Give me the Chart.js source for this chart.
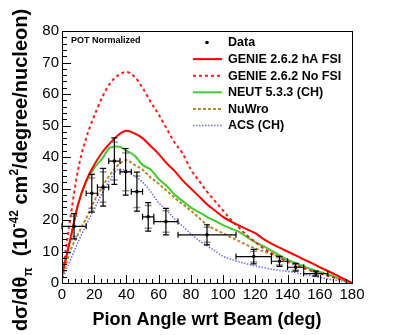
<!DOCTYPE html>
<html><head><meta charset="utf-8">
<script src="https://cdn.jsdelivr.net/npm/chart.js@4/dist/chart.umd.min.js"></script>
<style>html,body{margin:0;padding:0;background:#fff;}canvas{display:block;}</style>
</head><body>
<canvas id="c" width="415" height="335"></canvas>
<script>
// ---- data ----
const angles = [0,5,10,15,20,25,30,35,40,45,50,55,60,65,70,75,80,85,90,95,100,105,110,115,120,125,130,135,140,145,150,155,160,165,170,175,180];
const genieHA =   [2.5,13.5,25,32.5,37.5,41.5,44.5,47,48.3,47.5,46,43.5,41,38,35.5,32.5,30,27.5,25,23,21,19.5,18.2,17,15.8,14,12.5,11.2,10,8.8,7.5,6.3,5,3.8,2.6,1.3,0];
const genieNoFSI =[2,20,36,46,53,59,63.5,66,67,65.5,62,57.5,53.5,49,44.5,41,36,32.5,29,26,23,20,17.5,15,13,11,9.5,8,6.8,5.7,4.7,3.8,3,2.3,1.5,0.8,0];
const neut =      [2.5,13.5,25,32,36.5,39.5,43,43.3,42,40.5,37.5,36,33,30.8,28,26,24,22.5,21,19.7,18.4,17.3,16.2,14.5,13,11.7,10.3,8.8,7.3,6.3,5.3,4.3,3.5,2.8,1.8,0.9,0];
const nuwro =     [1.5,10,15.5,20.5,26,30.5,34.5,37.5,39,37.5,36,33.5,31.5,29.3,27,25,23,20.7,18.5,17,15.8,14.5,13.3,12,11,10,9.2,8.3,7.3,6.3,5.3,4.3,3.5,2.7,1.8,0.9,0];
const acs =       [1,7,13,18.5,23.5,28.5,33,36,35.8,34,32,29,25.5,23,20.3,18,15.6,13.5,11.8,10.2,8.5,7.5,6.7,6,5.4,4.9,4.4,4,3.7,3.3,2.8,2.3,1.8,1.3,0.9,0.5,0];

const dataX     = [7.5,18.5,25.5,32.5,39.5,46.5,53.5,64.5,90,119,135,145,157.5];
const dataXLow  = [0,15,22,29,36,43,50,57,72,108,130,140,150];
const dataXHigh = [15,22,29,36,43,50,57,72,108,130,140,150,165];
const dataY     = [18,28.5,30.4,38.7,35.3,29,21,19.5,15.3,8.4,6.9,5.0,3.0];
const dataErr   = [4,6,6,7.4,7.4,6.2,4.5,4.2,3.2,2.3,1.6,1.2,0.8];
const dataStat  = [3.2,4.8,4.8,6,6,5,3.6,3.4,2.4,1.7,1.2,0.9,0.6];

const seriesLabels = ['Data','GENIE 2.6.2 hA FSI','GENIE 2.6.2 No FSI','NEUT 5.3.3 (CH)','NuWro','ACS (CH)'];
const xTickLabels = [0,20,40,60,80,100,120,140,160,180];
const yTickLabels = [0,10,20,30,40,50,60,70,80];
const xMinorStep = 4, yMinorStep = 2;

const FONT = '"Liberation Sans", Arial, Helvetica, sans-serif';
const toXY = arr => angles.map((a,i)=>({x:a,y:arr[i]}));

const framePlugin = {
  id:'frame',
  afterDatasetsDraw(chart){
    const {ctx, chartArea:a, scales:{x,y}} = chart;
    ctx.save();
    // error bars
    for(let i=0;i<dataX.length;i++){
      const px = x.getPixelForValue(dataX[i]);
      const py = y.getPixelForValue(dataY[i]);
      const xl = x.getPixelForValue(dataXLow[i]);
      const xh = x.getPixelForValue(dataXHigh[i]);
      const yt = y.getPixelForValue(dataY[i]+dataErr[i]);
      const yb = y.getPixelForValue(dataY[i]-dataErr[i]);
      const st = y.getPixelForValue(dataY[i]+dataStat[i]);
      const sb = y.getPixelForValue(dataY[i]-dataStat[i]);
      ctx.strokeStyle='rgba(120,120,120,0.8)'; ctx.lineWidth=1.5;
      ctx.beginPath();
      ctx.moveTo(px-3.5,st);ctx.lineTo(px+3.5,st);
      ctx.moveTo(px-3.5,sb);ctx.lineTo(px+3.5,sb);
      ctx.stroke();
      ctx.strokeStyle='#000'; ctx.lineWidth=1.2;
      ctx.beginPath();
      ctx.moveTo(xl,py);ctx.lineTo(xh,py);
      ctx.moveTo(xl,py-3);ctx.lineTo(xl,py+3);
      ctx.moveTo(xh,py-3);ctx.lineTo(xh,py+3);
      ctx.moveTo(px,yt);ctx.lineTo(px,yb);
      ctx.moveTo(px-3,yt);ctx.lineTo(px+3,yt);
      ctx.moveTo(px-3,yb);ctx.lineTo(px+3,yb);
      ctx.stroke();
    }
    ctx.restore();
  },
  afterDraw(chart){
    const {ctx, chartArea:a, scales:{x,y}} = chart;
    ctx.save();
    ctx.strokeStyle='#000'; ctx.lineWidth=1;
    ctx.strokeRect(Math.round(a.left)+0.5, Math.round(a.top)+0.5, Math.round(a.right-a.left), Math.round(a.bottom-a.top));
    ctx.beginPath();
    const yMax = yTickLabels[yTickLabels.length-1];
    for(let v=0; v<=yMax; v+=yMinorStep){
      const py = Math.round(y.getPixelForValue(v))+0.5;
      const len = yTickLabels.includes(v)?9:5;
      ctx.moveTo(a.left, py); ctx.lineTo(a.left+len, py);
    }
    const xMax = xTickLabels[xTickLabels.length-1];
    for(let v=0; v<=xMax; v+=xMinorStep){
      const px = Math.round(x.getPixelForValue(v))+0.5;
      const len = xTickLabels.includes(v)?8:4;
      ctx.moveTo(px, a.bottom); ctx.lineTo(px, a.bottom-len);
    }
    ctx.stroke();

    // legend
    const rowY0 = 42.5, dy = 16.6, lx0 = 193, lx1 = 222, tx = 228;
    ctx.font = 'bold 12.5px '+FONT; ctx.textBaseline='middle'; ctx.textAlign='left'; ctx.fillStyle='#000';
    chart.data.datasets.forEach((ds,i)=>{
      const yy = rowY0 + i*dy;
      if(i===0){
        ctx.beginPath(); ctx.arc(207, yy, 1.8, 0, Math.PI*2); ctx.fillStyle='#000'; ctx.fill();
      } else {
        ctx.save();
        ctx.strokeStyle = ds.borderColor; ctx.lineWidth = ds.borderWidth;
        ctx.setLineDash(ds.borderDash||[]);
        ctx.beginPath(); ctx.moveTo(lx0, yy); ctx.lineTo(lx1, yy); ctx.stroke();
        ctx.restore();
      }
      ctx.fillStyle='#000';
      ctx.fillText(ds.label, tx, yy+0.5);
    });
    // POT Normalized
    ctx.font = 'bold 9px '+FONT;
    ctx.fillText('POT Normalized', 71, 41);

    // y-axis title
    ctx.save();
    ctx.translate(27, 170);
    ctx.rotate(-Math.PI/2);
    const segs = [
      {t:'dσ/dθ', s:20, d:0},
      {t:'π', s:12, d:5},
      {t:'  (10', s:20, d:0},
      {t:'-42', s:12, d:-9},
      {t:' cm', s:20, d:0},
      {t:'2', s:12, d:-9},
      {t:'/degree/nucleon)', s:20, d:0}
    ];
    let total = 0;
    segs.forEach(sg=>{ctx.font='bold '+sg.s+'px '+FONT; sg.w=ctx.measureText(sg.t).width; total+=sg.w;});
    let cx = -total/2;
    ctx.textBaseline='alphabetic'; ctx.textAlign='left';
    segs.forEach(sg=>{ctx.font='bold '+sg.s+'px '+FONT; ctx.fillText(sg.t, cx, sg.d); cx+=sg.w;});
    ctx.restore();
    ctx.restore();
  }
};

new Chart(document.getElementById('c'), {
  type:'line',
  data:{
    datasets:[
      {label:seriesLabels[0], type:'scatter', data:dataX.map((xv,i)=>({x:xv,y:dataY[i]})), showLine:false,
       pointRadius:1.8, pointBackgroundColor:'#000', pointBorderColor:'#000', borderColor:'#000', pointBorderWidth:0},
      {label:seriesLabels[1], data:toXY(genieHA), borderColor:'#ff0000', borderWidth:2, pointRadius:0, cubicInterpolationMode:'monotone', fill:false},
      {label:seriesLabels[2], data:toXY(genieNoFSI), borderColor:'#ff1a1a', borderWidth:2, borderDash:[3,3], pointRadius:0, cubicInterpolationMode:'monotone', fill:false},
      {label:seriesLabels[3], data:toXY(neut), borderColor:'#3fcc2e', borderWidth:2, pointRadius:0, cubicInterpolationMode:'monotone', fill:false},
      {label:seriesLabels[4], data:toXY(nuwro), borderColor:'#b8862e', borderWidth:2, borderDash:[3,2], pointRadius:0, cubicInterpolationMode:'monotone', fill:false},
      {label:seriesLabels[5], data:toXY(acs), borderColor:'#6a6aff', borderWidth:1.5, borderDash:[1.5,1.5], pointRadius:0, cubicInterpolationMode:'monotone', fill:false}
    ]
  },
  options:{
    responsive:false, animation:false, devicePixelRatio:1,
    layout:{padding:{left:0, right:63, top:31, bottom:0}},
    plugins:{legend:{display:false}, tooltip:{enabled:false}},
    scales:{
      x:{type:'linear', min:0, max:180,
         afterBuildTicks:(s)=>{s.ticks = xTickLabels.map(v=>({value:v}));},
         afterFit:(s)=>{s.height=52;},
         grid:{display:false, drawTicks:false}, border:{display:false},
         ticks:{color:'#000', font:{family:FONT, size:15}, padding:3, autoSkip:false, maxRotation:0},
         title:{display:true, text:'Pion Angle wrt Beam (deg)', color:'#000', font:{family:FONT, size:18, weight:'bold'}, padding:{top:0,bottom:4}}
      },
      y:{type:'linear', min:0, max:80,
         afterBuildTicks:(s)=>{s.ticks = yTickLabels.map(v=>({value:v}));},
         afterFit:(s)=>{s.width=62;},
         grid:{display:false, drawTicks:false}, border:{display:false},
         ticks:{color:'#000', font:{family:FONT, size:15}, padding:3}
      }
    }
  },
  plugins:[framePlugin]
});
</script>
</body></html>
